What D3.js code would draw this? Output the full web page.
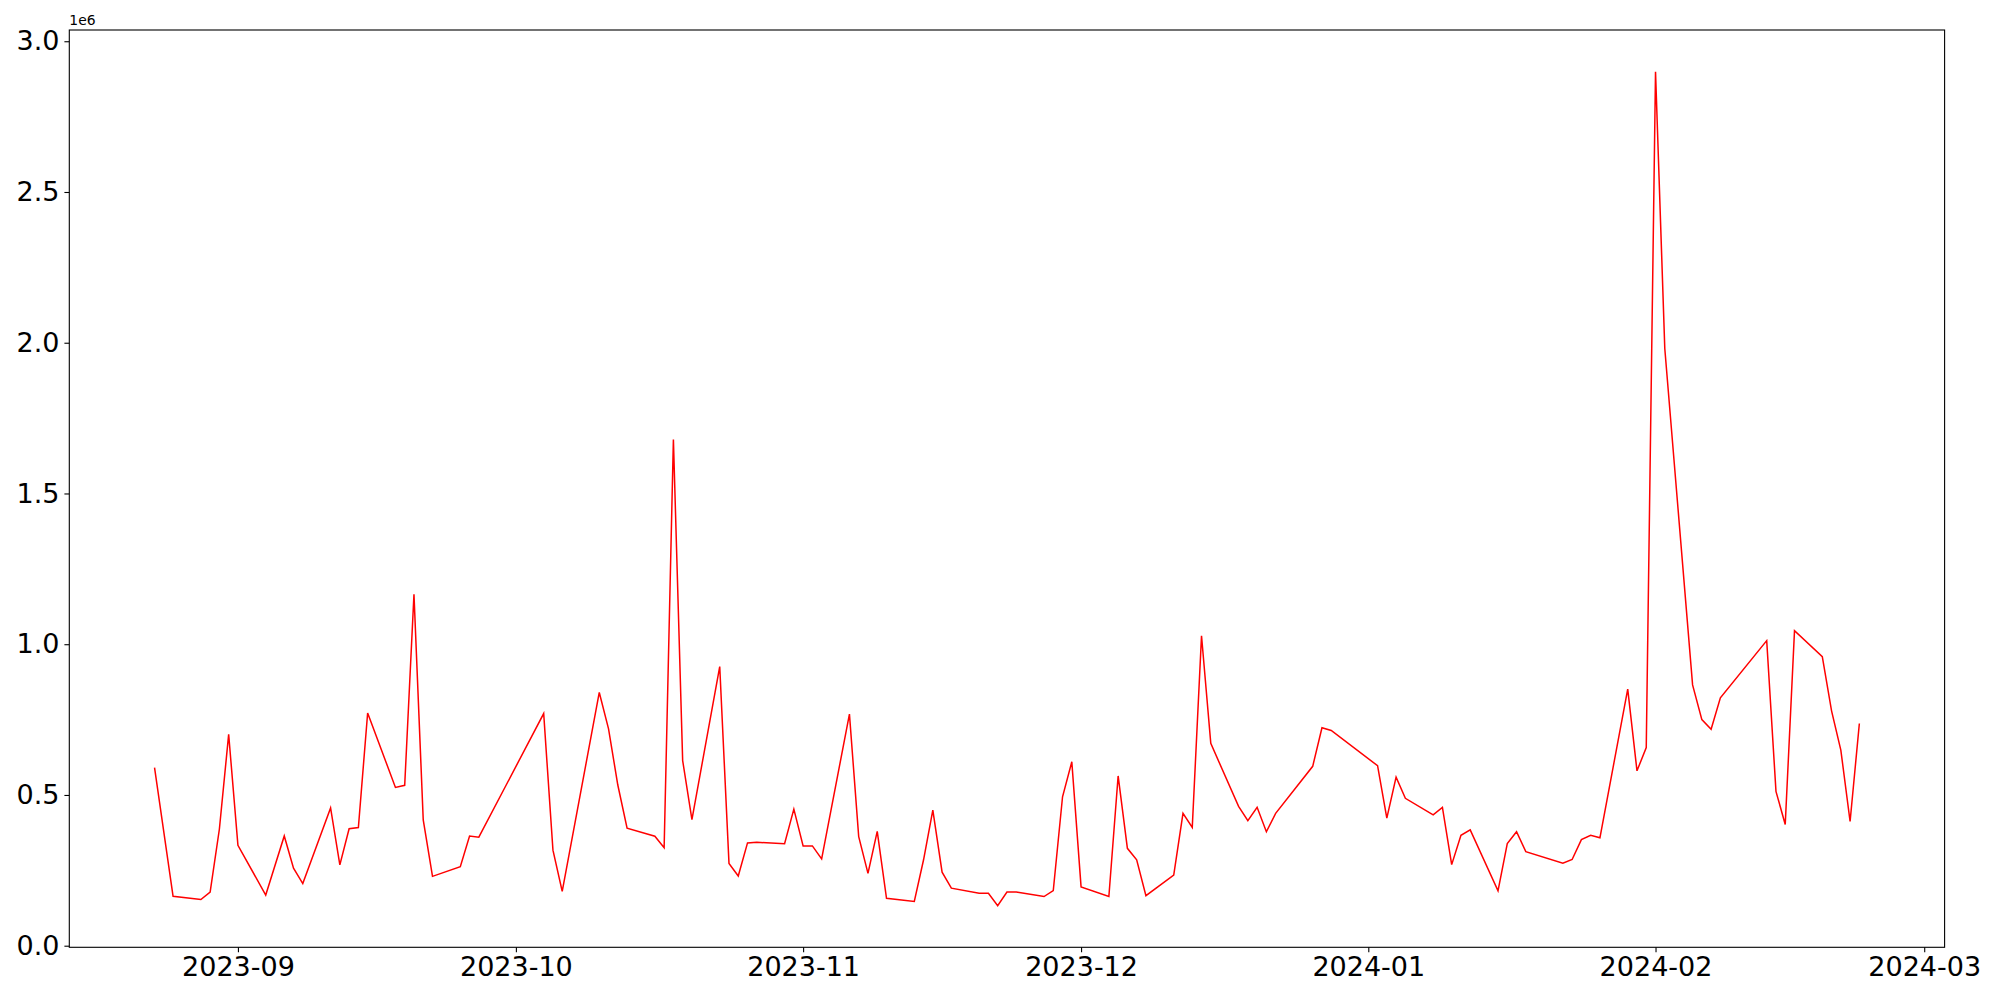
<!DOCTYPE html>
<html>
<head>
<meta charset="utf-8">
<script src="https://cdn.jsdelivr.net/npm/d3@7"></script>
<style>
  html, body { margin: 0; padding: 0; background: #fff; }
  svg { display: block; font-family: "DejaVu Sans", sans-serif; }
</style>
</head>
<body>
<svg id="chart" width="2000" height="1000"></svg>
<script>
// ---- data (values in millions) ----
const dates = [
  "2023-08-23","2023-08-25","2023-08-28","2023-08-29","2023-08-30","2023-08-31","2023-09-01",
  "2023-09-04","2023-09-06","2023-09-07","2023-09-08","2023-09-11","2023-09-12","2023-09-13",
  "2023-09-14","2023-09-15","2023-09-18","2023-09-19","2023-09-20","2023-09-21","2023-09-22",
  "2023-09-25","2023-09-26","2023-09-27","2023-10-04","2023-10-05","2023-10-06","2023-10-10",
  "2023-10-11","2023-10-12","2023-10-13","2023-10-16","2023-10-17","2023-10-18","2023-10-19",
  "2023-10-20","2023-10-23","2023-10-24","2023-10-25","2023-10-26","2023-10-27","2023-10-30",
  "2023-10-31","2023-11-01","2023-11-02","2023-11-03","2023-11-06","2023-11-07","2023-11-08",
  "2023-11-09","2023-11-10","2023-11-13","2023-11-14","2023-11-15","2023-11-16","2023-11-17",
  "2023-11-20","2023-11-21","2023-11-22","2023-11-23","2023-11-24","2023-11-27","2023-11-28",
  "2023-11-29","2023-11-30","2023-12-01","2023-12-04","2023-12-05","2023-12-06","2023-12-07",
  "2023-12-08","2023-12-11","2023-12-12","2023-12-13","2023-12-14","2023-12-15","2023-12-18",
  "2023-12-19","2023-12-20","2023-12-21","2023-12-22","2023-12-26","2023-12-27","2023-12-28",
  "2024-01-02","2024-01-03","2024-01-04","2024-01-05","2024-01-08","2024-01-09","2024-01-10",
  "2024-01-11","2024-01-12","2024-01-15","2024-01-16","2024-01-17","2024-01-18","2024-01-22",
  "2024-01-23","2024-01-24","2024-01-25","2024-01-26","2024-01-29","2024-01-30","2024-01-31",
  "2024-02-01","2024-02-02","2024-02-05","2024-02-06","2024-02-07","2024-02-08","2024-02-13",
  "2024-02-14","2024-02-15","2024-02-16","2024-02-19","2024-02-20","2024-02-21","2024-02-22",
  "2024-02-23"
];
const valuesM = [
  0.591,0.164,0.153,0.178,0.387,0.701,0.333,
  0.168,0.364,0.257,0.206,0.457,0.268,0.388,
  0.392,0.772,0.525,0.532,1.166,0.417,0.230,
  0.262,0.364,0.360,0.770,0.317,0.180,0.840,
  0.719,0.533,0.390,0.363,0.325,1.679,0.614,
  0.418,0.926,0.273,0.231,0.341,0.343,0.338,
  0.453,0.331,0.331,0.288,0.768,0.362,0.240,
  0.379,0.157,0.147,0.285,0.450,0.244,0.191,
  0.174,0.174,0.133,0.178,0.178,0.163,0.183,
  0.494,0.610,0.195,0.163,0.563,0.323,0.285,
  0.166,0.234,0.439,0.392,1.028,0.671,0.462,
  0.415,0.459,0.378,0.439,0.595,0.723,0.714,
  0.597,0.423,0.559,0.489,0.434,0.459,0.269,
  0.366,0.384,0.182,0.339,0.378,0.312,0.274,
  0.286,0.352,0.366,0.358,0.851,0.580,0.657,
  2.899,1.981,0.865,0.750,0.718,0.822,1.012,
  0.512,0.402,1.045,0.959,0.779,0.649,0.412,
  0.737
];
const yTicks = [0, 0.5e6, 1.0e6, 1.5e6, 2.0e6, 2.5e6, 3.0e6];
const yTickLabels = ["0.0","0.5","1.0","1.5","2.0","2.5","3.0"];
const xTickLabels = ["2023-09","2023-10","2023-11","2023-12","2024-01","2024-02","2024-03"];
const offsetLabel = "1e6";

// ---- layout ----
const W = 2000, H = 1000;
const m = { left: 69.3, right: 2000 - 1944.6, top: 30, bottom: 1000 - 947.3 };
const parse = d3.utcParse("%Y-%m-%d");
const data = dates.map((d, i) => ({ date: parse(d), value: valuesM[i] * 1e6 }));

const svg = d3.select("#chart");

// x with 5% margins
const xExt = d3.extent(data, d => d.date);
const xSpan = xExt[1] - xExt[0];
const x = d3.scaleUtc()
  .domain([new Date(+xExt[0] - 0.05 * xSpan), new Date(+xExt[1] + 0.05 * xSpan)])
  .range([m.left, W - m.right]);

const yExt = d3.extent(data, d => d.value);
const ySpan = yExt[1] - yExt[0];
const y = d3.scaleLinear()
  .domain([yExt[0] - 0.05 * ySpan, yExt[1] + 0.05 * ySpan])
  .range([H - m.bottom, m.top]);

const fs = 27;

// line
svg.append("path")
  .datum(data)
  .attr("fill", "none")
  .attr("stroke", "#ff0000")
  .attr("stroke-width", 1.5)
  .attr("stroke-linejoin", "miter")
  .attr("d", d3.line().x(d => x(d.date)).y(d => y(d.value)));

// x axis
const xTickDates = xTickLabels.map(s => d3.utcParse("%Y-%m")(s));
const xAxis = d3.axisBottom(x)
  .tickValues(xTickDates)
  .tickFormat((d, i) => xTickLabels[i])
  .tickSize(4.9)
  .tickPadding(4.9);
const gx = svg.append("g")
  .attr("transform", `translate(0,${H - m.bottom})`)
  .call(xAxis);
gx.select(".domain").remove();
gx.selectAll("line").attr("stroke", "#000").attr("stroke-width", 1.1);
gx.selectAll("text").attr("font-size", fs).attr("fill", "#000")
  .attr("font-family", "DejaVu Sans");

// y axis
const yAxis = d3.axisLeft(y)
  .tickValues(yTicks)
  .tickFormat((d, i) => yTickLabels[i])
  .tickSize(4.9)
  .tickPadding(4.9);
const gy = svg.append("g")
  .attr("transform", `translate(${m.left},0)`)
  .call(yAxis);
gy.select(".domain").remove();
gy.selectAll("line").attr("stroke", "#000").attr("stroke-width", 1.1);
gy.selectAll("text").attr("font-size", fs).attr("fill", "#000")
  .attr("font-family", "DejaVu Sans");

// frame
svg.append("rect")
  .attr("x", m.left).attr("y", m.top)
  .attr("width", W - m.left - m.right)
  .attr("height", H - m.top - m.bottom)
  .attr("fill", "none")
  .attr("stroke", "#000")
  .attr("stroke-width", 1.1);

// offset label
svg.append("text")
  .attr("x", m.left)
  .attr("y", m.top - 5)
  .attr("font-size", 13.9)
  .attr("font-family", "DejaVu Sans")
  .attr("fill", "#000")
  .text(offsetLabel);
</script>
</body>
</html>
